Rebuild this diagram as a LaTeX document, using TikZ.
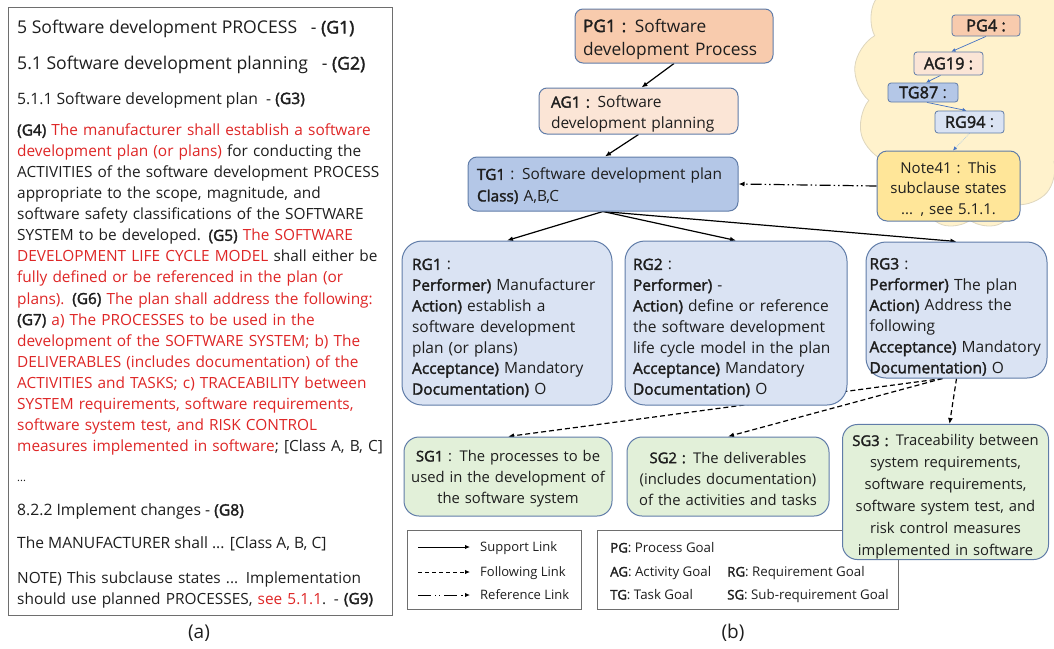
\documentclass[tikz,border=0pt]{standalone}
\usepackage{fontspec}
\setmainfont{Open Sans}[AutoFakeBold=2]
\usetikzlibrary{arrows.meta,shapes.symbols}

\definecolor{textcol}{RGB}{30,30,30}
\definecolor{redtext}{RGB}{222,38,38}
\definecolor{framegray}{RGB}{110,110,110}
\definecolor{edgeblue}{RGB}{96,124,168}
\definecolor{pgfill}{RGB}{248,203,173}
\definecolor{agfill}{RGB}{251,229,214}
\definecolor{tgfill}{RGB}{180,199,231}
\definecolor{rgfill}{RGB}{218,227,243}
\definecolor{sgfill}{RGB}{226,240,217}
\definecolor{notefill}{RGB}{255,230,153}
\definecolor{cloudfill}{RGB}{255,242,204}
\definecolor{cloudedge}{RGB}{222,214,190}
\definecolor{linkblue}{RGB}{68,114,196}
\definecolor{lightlink}{RGB}{157,195,230}

\hyphenpenalty=10000
\exhyphenpenalty=10000
\newcommand\rd[1]{\textcolor{redtext}{#1}}
\newcommand\jline[1]{\makebox[\linewidth][s]{#1}}

\pgfdeclarelayer{back}
\pgfdeclarelayer{links}
\pgfsetlayers{back,links,main}

\tikzset{
  body/.style={font=\fontsize{15.5}{20.8}\selectfont, text=textcol},
  topstrut/.style={execute at begin node={\rule{0pt}{#1}}},
  goal/.style={draw=edgeblue, line width=1pt, inner sep=0pt, body},
  pgbox/.style={goal, fill=pgfill, rounded corners=8pt, align=left},
  agbox/.style={goal, fill=agfill, rounded corners=8pt, align=left},
  tgbox/.style={goal, fill=tgfill, rounded corners=9pt, align=left},
  rgbox/.style={goal, fill=rgfill, rounded corners=20pt, align=left},
  sgbox/.style={goal, fill=sgfill, rounded corners=15pt, align=center,
    font=\fontsize{14.8}{21}\selectfont},
  notebox/.style={goal, fill=notefill, rounded corners=10pt, align=center},
  mini/.style={draw=edgeblue, line width=0.8pt, inner sep=0pt, rounded corners=3pt,
    font=\fontsize{16.3}{18}\selectfont, text=textcol},
  support/.style={-{Latex[length=6pt,width=5pt]}, line width=1.2pt, black},
  following/.style={support, dash pattern=on 5pt off 3pt},
  reference/.style={support, dash pattern=on 11pt off 3pt on 1.5pt off 3pt on 1.5pt off 3pt},
  cloudlink/.style={-{Latex[length=4pt,width=4pt]}, line width=0.7pt, linkblue},
  legendbox/.style={draw=framegray, line width=1pt, inner sep=0pt},
  legendtext/.style={font=\fontsize{13}{15}\selectfont, text=textcol, inner sep=0pt, anchor=base west},
  keytext/.style={legendtext, font=\fontsize{13.3}{15}\selectfont},
  leftline/.style={anchor=base west, inner sep=0pt, text=textcol},
}

\begin{document}
\begin{tikzpicture}[x=1pt, y=-1pt]
\useasboundingbox (0,0) rectangle (1054,648);
\clip (0,0) rectangle (1054,648);

% ---------- (a) standard text ----------
\node[draw=framegray, line width=1.3pt, minimum width=384pt, minimum height=608pt,
  anchor=north west, inner sep=0pt] (frame) at (8,7) {};

\node[leftline, font=\fontsize{17.6}{21}\selectfont] (h1) at (17,33.5)
  {5 Software development PROCESS\ \ \ - \textbf{(G1)}};
\node[leftline, font=\fontsize{17.6}{21}\selectfont] (h2) at (17,69.5)
  {5.1 Software development planning\ \ \ - \textbf{(G2)}};
\node[leftline, font=\fontsize{15.7}{21}\selectfont] (h3) at (17,104)
  {5.1.1 Software development plan\ \ - \textbf{(G3)}};

\node[leftline, text width=366pt, align=left, font=\fontsize{15.4}{21.07}\selectfont] (para) at (17,135.5) {%
\jline{\textbf{(G4)} \rd{The manufacturer shall establish a software}}\\
\jline{\rd{development plan (or plans)} for conducting the}\\
\jline{ACTIVITIES of the software development PROCESS}\\
\jline{appropriate to the scope, magnitude, and}\\
\jline{software safety classifications of the SOFTWARE}\\
\jline{SYSTEM to be developed. \textbf{(G5)} \rd{The SOFTWARE}}\\
\jline{\rd{DEVELOPMENT LIFE CYCLE MODEL} shall either be}\\
\jline{\rd{fully defined or be referenced in the plan (or}}\\
\jline{\rd{plans).} \textbf{(G6)} \rd{The plan shall address the following:}}\\
\jline{\textbf{(G7)} \rd{a) The PROCESSES to be used in the}}\\
\jline{\rd{development of the SOFTWARE SYSTEM; b) The}}\\
\jline{\rd{DELIVERABLES (includes documentation) of the}}\\
\jline{\rd{ACTIVITIES and TASKS; c) TRACEABILITY between}}\\
\jline{\rd{SYSTEM requirements, software requirements,}}\\
\jline{\rd{software system test, and RISK CONTROL}}\\
\mbox{\rd{measures implemented in software}; [Class A, B, C]}};

\node[leftline, font=\fontsize{11}{13}\selectfont] (ellipsis) at (17,481) {...};
\node[leftline, font=\fontsize{15.7}{21}\selectfont] (g8) at (17,515.5)
  {8.2.2 Implement changes - \textbf{(G8)}};
\node[leftline, font=\fontsize{15.6}{21}\selectfont] (manuf) at (17,548.5)
  {The MANUFACTURER shall ... [Class A, B, C]};
\node[leftline, text width=366pt, align=left, font=\fontsize{15.4}{20.5}\selectfont] (note) at (17,583.5) {%
\jline{NOTE) This subclause states ... Implementation}\\
\mbox{should use planned PROCESSES, \rd{see 5.1.1}. - \textbf{(G9)}}};

\node[font=\fontsize{19}{22}\selectfont, text=textcol, inner sep=0pt] (capa) at (199,633) {(a)};

% ---------- (b) goal model ----------
\begin{pgfonlayer}{back}
  \node[cloud, cloud puffs=13, cloud puff arc=110, aspect=0.85, draw=cloudedge,
    line width=0.8pt, fill=cloudfill, minimum width=232pt, minimum height=290pt] (cloud) at (970,84) {};
\end{pgfonlayer}

\node[pgbox, font=\fontsize{17.3}{23}\selectfont, topstrut=19.3pt, minimum width=198pt, minimum height=54pt,
  text width=182pt] (pg1) at (674,36)
  {\textbf{PG1 :} Software\\development Process};
\node[agbox, topstrut=17.8pt, minimum width=199pt, minimum height=46pt, text width=175pt] (ag1) at (638.5,111)
  {\textbf{AG1 :} Software\\development planning};
\node[tgbox, font=\fontsize{15.4}{21.5}\selectfont, topstrut=15.8pt, minimum width=270pt, minimum height=54pt,
  text width=252pt] (tg1) at (603,184)
  {\textbf{TG1} : Software development plan\\\textbf{Class)} A,B,C};

\node[rgbox, topstrut=21pt, minimum width=210pt, minimum height=164pt, text width=190pt] (rg1) at (507,323)
  {\textbf{RG1} :\\
   \textbf{Performer)} Manufacturer\\
   \textbf{Action)} establish a\\
   software development\\
   plan (or plans)\\
   \textbf{Acceptance)} Mandatory\\
   \textbf{Documentation)} O};
\node[rgbox, topstrut=21pt, minimum width=222pt, minimum height=164pt, text width=206pt] (rg2) at (736,323)
  {\textbf{RG2} :\\
   \textbf{Performer)} -\\
   \textbf{Action)} define or reference\\
   the software development\\
   life cycle model in the plan\\
   \textbf{Acceptance)} Mandatory\\
   \textbf{Documentation)} O};
\node[rgbox, topstrut=25pt, minimum width=181pt, minimum height=136pt, text width=174pt] (rg3) at (956.5,310)
  {\textbf{RG3} :\\
   \textbf{Performer)} The plan\\
   \textbf{Action)} Address the\\
   following\\
   \textbf{Acceptance)} Mandatory\\
   \textbf{Documentation)} O};

\node[sgbox, topstrut=15.5pt, minimum width=208pt, minimum height=79pt, text width=202pt] (sg1) at (508,476.5)
  {\textbf{SG1} : The processes to be\\used in the development of\\the software system};
\node[sgbox, topstrut=15.5pt, minimum width=202pt, minimum height=79pt, text width=196pt] (sg2) at (728,476.5)
  {\textbf{SG2 :} The deliverables\\(includes documentation)\\of the activities and tasks};

% legends
\node[legendbox, minimum width=174pt, minimum height=79pt] (leg1) at (494,569.5) {};
\coordinate (s1) at (418,547); \coordinate (s2) at (470,547);
\coordinate (f1) at (418,572); \coordinate (f2) at (470,572);
\coordinate (r1) at (418,595); \coordinate (r2) at (470,595);
\draw[support, line width=1pt, -{Latex[length=5pt,width=4.5pt]}] (s1) -- (s2);
\draw[following, line width=1pt, -{Latex[length=5pt,width=4.5pt]}, dash pattern=on 4pt off 3pt] (f1) -- (f2);
\draw[reference, line width=1pt, -{Latex[length=5pt,width=4.5pt]}, dash pattern=on 13pt off 4pt on 1.2pt off 3pt on 1.2pt off 4pt] (r1) -- (r2);
\node[legendtext] (lt1) at (480,551.5) {Support Link};
\node[legendtext] (lt2) at (480,576.5) {Following Link};
\node[legendtext] (lt3) at (480,599.5) {Reference Link};

\node[legendbox, minimum width=301pt, minimum height=79pt] (leg2) at (747.5,569.5) {};
\node[keytext] (kpg) at (610,552.5) {\textbf{PG}: Process Goal};
\node[keytext] (kag) at (610,576.5) {\textbf{AG}: Activity Goal};
\node[keytext] (ktg) at (610,599.5) {\textbf{TG}: Task Goal};
\node[keytext] (krg) at (727,576.5) {\textbf{RG}: Requirement Goal};
\node[keytext] (ksg) at (727,599.5) {\textbf{SG}: Sub-requirement Goal};

\node[sgbox, font=\fontsize{14.8}{22}\selectfont, topstrut=21.5pt, minimum width=206pt, minimum height=132pt,
  text width=200pt] (sg3) at (945.5,492)
  {\textbf{SG3 :} Traceability between\\system requirements,\\software requirements,\\software system test, and\\risk control measures\\implemented in software};

% goal chain inside the cloud
\node[mini, fill=pgfill, minimum width=68pt, minimum height=21pt] (pg4) at (986,25.5) {\textbf{PG4 :}};
\node[mini, fill=agfill, minimum width=69pt, minimum height=23pt] (ag19) at (948.5,63.5) {\textbf{AG19 :}};
\node[mini, fill=tgfill, minimum width=70pt, minimum height=19pt] (tg87) at (923,92.5) {\textbf{TG87} :};
\node[mini, fill=rgfill, minimum width=69pt, minimum height=22pt] (rg94) at (969.5,122) {\textbf{RG94} :};
\node[notebox, font=\fontsize{15}{20.5}\selectfont, topstrut=17.5pt, minimum width=143pt, minimum height=70pt,
  text width=139pt] (note41) at (948.5,186)
  {Note41 : This\\subclause states\\... , see 5.1.1.};

\node[font=\fontsize{19}{22}\selectfont, text=textcol, inner sep=0pt] (capb) at (733,633) {(b)};

% ---------- links ----------
\begin{pgfonlayer}{links}
  \draw[support] (pg1.south) -- ([xshift=3pt]ag1.north);
  \draw[support] (ag1.south) -- ([xshift=2pt]tg1.north);
  \draw[support] (tg1.south) -- (rg1.north);
  \draw[support] (tg1.south) -- (rg2.north);
  \draw[support] (tg1.south) -- (rg3.north);
  \draw[following] ([xshift=-14pt]rg3.south) -- (sg1.north);
  \draw[following] ([xshift=-14pt]rg3.south) -- (sg2.north);
  \draw[following] (rg3.south) -- ([xshift=4pt]sg3.north);
  \draw[reference] (note41.west) -- (tg1.east);
  \draw[cloudlink] (pg4.south) -- ([xshift=3pt]ag19.north);
  \draw[cloudlink] ([xshift=-8pt]ag19.south) -- ([xshift=3pt]tg87.north);
  \draw[cloudlink] ([xshift=4pt]tg87.south) -- ([xshift=-3pt]rg94.north);
  \draw[cloudlink, lightlink, densely dotted, -{Latex[length=4pt,width=4pt,fill=linkblue,color=linkblue]}]
    (rg94.south) -- ([xshift=4.5pt]note41.north);
\end{pgfonlayer}
\end{tikzpicture}
\end{document}
